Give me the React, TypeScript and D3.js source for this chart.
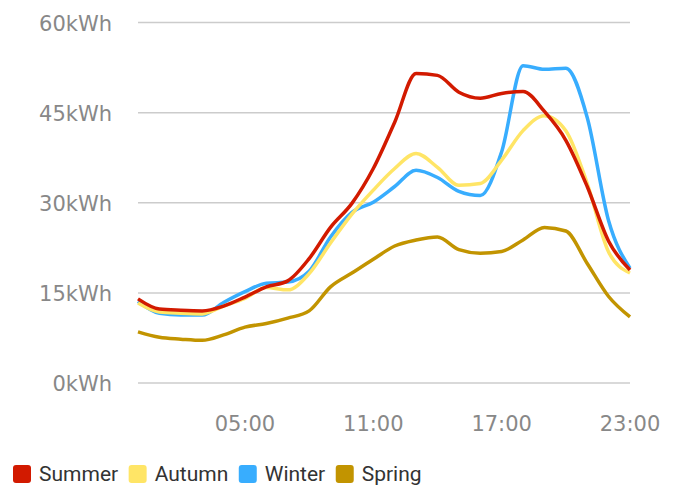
import React, { useEffect, useRef } from "react";
import * as d3 from "d3";

const hours = d3.range(0, 24);
const summer = [14.0, 12.3, 12.1, 12.0, 12.8, 14.3, 16.0, 17.0, 20.7, 25.9, 29.9, 35.7, 43.4, 51.5, 51.2, 48.4, 47.4, 48.2, 48.5, 45.2, 40.4, 32.7, 23.6, 18.8];
const autumn = [13.3, 11.8, 11.6, 11.5, 12.8, 14.1, 15.9, 15.5, 18.2, 23.3, 28.1, 32.1, 35.7, 38.2, 35.9, 32.9, 33.2, 37.1, 42.0, 44.5, 42.0, 33.2, 21.8, 18.3];
const winter = [13.6, 11.6, 11.3, 11.3, 13.4, 15.2, 16.6, 16.8, 18.6, 24.3, 28.4, 30.1, 32.7, 35.4, 34.2, 31.9, 31.2, 38.5, 52.8, 52.2, 52.4, 44.2, 27.0, 19.1];
const spring = [8.5, 7.6, 7.3, 7.1, 8.0, 9.3, 9.9, 10.8, 12.0, 16.0, 18.3, 20.6, 22.8, 23.8, 24.3, 22.2, 21.6, 21.9, 23.8, 25.9, 25.3, 19.9, 14.4, 11.0];
const yTicks = [0, 15, 30, 45, 60];
const xTicks = [5, 11, 17, 23];
const seriesNames = ["Summer", "Autumn", "Winter", "Spring"];
const seriesValues = [summer, autumn, winter, spring];
const seriesColors = ["#d21a00", "#ffe566", "#38adfe", "#c29400"];

export default function App() {
  const ref = useRef<SVGSVGElement | null>(null);
  useEffect(() => {
    const svg = d3.select(ref.current);
    svg.selectAll("*").remove();
    const x = d3.scaleLinear().domain([0, 23]).range([138, 630]);
    const y = d3.scaleLinear().domain([0, 60]).range([383, 22.5]);

    const grid = svg.append("g");
    grid.selectAll("line").data(yTicks).join("line")
      .attr("x1", 138).attr("x2", 630)
      .attr("y1", d => y(d)).attr("y2", d => y(d))
      .attr("stroke", "#cccccc").attr("stroke-width", 1.5);
    grid.selectAll("text").data(yTicks).join("text")
      .attr("x", 112).attr("y", d => y(d) + 8)
      .attr("text-anchor", "end")
      .attr("font-family", "DejaVu Sans").attr("font-size", 21)
      .attr("fill", "#888888")
      .text(d => `${d}kWh`);

    svg.append("g").selectAll("text").data(xTicks).join("text")
      .attr("x", d => x(d)).attr("y", 431)
      .attr("text-anchor", "middle")
      .attr("font-family", "DejaVu Sans").attr("font-size", 21)
      .attr("fill", "#888888")
      .text(d => `${String(d).padStart(2, "0")}:00`);

    const line = d3.line<number>()
      .x((_, i) => x(hours[i]))
      .y(d => y(d))
      .curve(d3.curveMonotoneX);
    const order = [3, 2, 1, 0];
    svg.append("g").selectAll("path").data(order).join("path")
      .attr("d", i => line(seriesValues[i]) as string)
      .attr("fill", "none")
      .attr("stroke", i => seriesColors[i])
      .attr("stroke-width", 3.5)
      .attr("stroke-linejoin", "round");

    const leg = svg.append("g");
    let cx = 13;
    seriesNames.forEach((name, i) => {
      leg.append("rect").attr("x", cx).attr("y", 465).attr("width", 18).attr("height", 18)
        .attr("rx", 3).attr("fill", seriesColors[i]);
      const t = leg.append("text").attr("x", cx + 26).attr("y", 481)
        .attr("font-family", "Roboto").attr("font-size", 21).attr("fill", "#333333")
        .text(name);
      const w = (t.node() as SVGTextElement).getComputedTextLength();
      cx = cx + 26 + w + 10.5;
    });
  }, []);
  return (
    <svg ref={ref} width={681} height={485} style={{ position: "absolute", left: 0, top: 0 }} />
  );
}
